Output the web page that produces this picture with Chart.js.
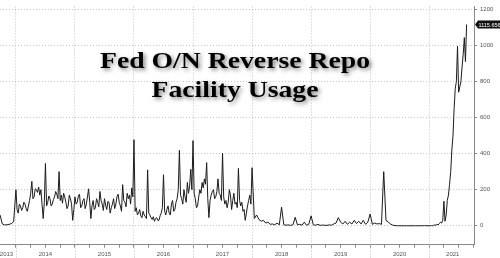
<!DOCTYPE html>
<html lang="en">
<head>
<meta charset="UTF-8">
<title>Fed O/N Reverse Repo Facility Usage</title>
<script src="https://cdn.jsdelivr.net/npm/chart.js@4.4.0/dist/chart.umd.min.js"></script>
<style>
    html, body { margin: 0; padding: 0; background: #fff; }
    #chart { display: block; }
</style>
</head>
<body>
<canvas id="chart" width="500" height="258"></canvas>
<script>
    // Usage in $bn: weekly 2014-2017 and 2021, biweekly otherwise
    const v2013 = [60, 10, 5, 5, 8, 12, 22];   // from mid Sept 2013, biweekly
    const v2014 = [200, 90, 70, 120, 110, 85, 100, 130, 120, 95, 80, 110, 140, 180, 246, 150, 160, 205, 200, 185, 215, 170, 200, 120, 40, 130,
                   345, 110, 130, 165, 150, 110, 120, 145, 160, 190, 175, 150, 300, 140, 170, 125, 180, 160, 130, 95, 110, 170, 150, 120, 30, 90];
    const v2015 = [160, 120, 130, 165, 175, 100, 110, 140, 150, 95, 120, 160, 205, 130, 40, 110, 140, 90, 100, 150, 130, 105, 190, 140, 120, 85,
                   150, 115, 90, 135, 130, 70, 100, 120, 150, 95, 120, 160, 175, 130, 110, 80, 228, 140, 130, 105, 180, 150, 170, 120, 210, 160];
    const v2016 = [477, 80, 100, 60, 70, 90, 55, 45, 80, 60, 50, 40, 310, 70, 60, 45, 35, 50, 25, 40, 45, 30, 30, 55, 70, 100,
                   283, 80, 60, 90, 110, 70, 60, 120, 140, 80, 90, 130, 150, 200, 418, 170, 150, 120, 200, 160, 130, 240, 180, 220, 313, 200];
    const v2017 = [472, 180, 150, 100, 110, 160, 200, 180, 240, 210, 260, 230, 350, 150, 45, 140, 170, 190, 200, 150, 160, 190, 260, 180, 170, 140,
                   403, 160, 120, 140, 100, 130, 200, 170, 90, 140, 180, 120, 130, 100, 318, 140, 110, 130, 80, 90, 30, 70, 110, 140, 170, 120];
    const v2018 = [322, 40, 60, 35, 25, 30, 15, 20, 8, 10, 5, 15, 5, 103, 5, 3, 5, 2, 5, 47, 5, 8, 3, 20, 3, 8];
    const v2019 = [55, 5, 3, 8, 2, 4, 3, 2, 5, 3, 10, 15, 45, 20, 10, 25, 8, 20, 10, 30, 12, 25, 10, 30, 8, 20];
    const v2020 = [65, 8, 15, 10, 12, 8, 300, 30, 20, 10, 3, 1, 0, 0, 0, 0, 0, 0, 0, 0, 0, 0, 0, 0, 1, 0];
    const v2021 = [0, 0, 1, 0, 3, 5, 2, 8, 5, 12, 20, 15, 30, 136, 25, 60, 140, 170, 230, 300, 420, 497, 650, 760, 800, 995, 740, 770, 800, 880, 950, 1043, 910, 1115.656];

    const yearLabels = ['2013', '2014', '2015', '2016', '2017', '2018', '2019', '2020', '2021'];
    const labelPos = [2013.84, 2014.5, 2015.5, 2016.5, 2017.5, 2018.5, 2019.5, 2020.5, 2021.4];
    const yTicks = [0, 200, 400, 600, 800, 1000, 1200];
    const lastLabel = '1115.656';

    const points = [];
    function addYear(year, values, perYear, offset) {
        values.forEach((v, i) => points.push({ x: year + (i + offset) / perYear, y: v }));
    }
    addYear(2013, v2013, 26, 19);
    addYear(2014, v2014, 52, 0);
    addYear(2015, v2015, 52, 0);
    addYear(2016, v2016, 52, 0);
    addYear(2017, v2017, 52, 0);
    addYear(2018, v2018, 26, 0);
    addYear(2019, v2019, 26, 0);
    addYear(2020, v2020, 26, 0);
    addYear(2021, v2021, 52, 0);

    const X_MIN = 2013.73, X_MAX = 2021.76;
    const tickFont = { family: 'Liberation Sans', size: 6 };

    const decorations = {
        id: 'decorations',
        afterDatasetsDraw(chart) {
            const { ctx, chartArea, scales } = chart;
            // year separators running down through the label row
            ctx.save();
            ctx.strokeStyle = '#c4c4c4';
            ctx.lineWidth = 1;
            ctx.setLineDash([1, 2]);
            for (let y = 2014; y <= 2021; y++) {
                const px = Math.round(scales.x.getPixelForValue(y)) + 0.5;
                ctx.beginPath();
                ctx.moveTo(px, chartArea.bottom);
                ctx.lineTo(px, chart.height);
                ctx.stroke();
            }
            ctx.restore();

            // year labels, centred in the visible part of each year
            ctx.save();
            ctx.fillStyle = '#555';
            ctx.font = '6px "Liberation Sans"';
            ctx.textAlign = 'center';
            ctx.textBaseline = 'middle';
            yearLabels.forEach((lab, i) => {
                ctx.fillText(lab, scales.x.getPixelForValue(labelPos[i]), 254.5);
            });
            ctx.restore();

            // last value tag
            const last = points[points.length - 1].y;
            const py = scales.y.getPixelForValue(last);
            ctx.save();
            ctx.fillStyle = '#111';
            ctx.beginPath();
            ctx.moveTo(chartArea.right + 1, py);
            ctx.lineTo(chartArea.right + 4, py - 4);
            ctx.lineTo(chart.width, py - 4);
            ctx.lineTo(chart.width, py + 4);
            ctx.lineTo(chartArea.right + 4, py + 4);
            ctx.closePath();
            ctx.fill();
            ctx.fillStyle = '#fff';
            ctx.font = '5.5px "Liberation Sans"';
            ctx.textAlign = 'left';
            ctx.textBaseline = 'middle';
            ctx.fillText(lastLabel, chartArea.right + 4.5, py + 0.5);
            ctx.restore();

            // title, stretched a little to the width in the picture
            ctx.save();
            ctx.font = 'bold 23px "Liberation Serif"';
            const stretch = 270 / ctx.measureText('Fed O/N Reverse Repo').width;
            ctx.translate(235, 0);
            ctx.scale(stretch, 1);
            ctx.textAlign = 'center';
            ctx.textBaseline = 'alphabetic';
            ctx.fillStyle = '#000';
            ctx.shadowColor = 'rgba(0,0,0,0.5)';
            ctx.shadowBlur = 4;
            ctx.shadowOffsetX = 2;
            ctx.shadowOffsetY = 2;
            ctx.fillText('Fed O/N Reverse Repo', 0, 68);
            ctx.fillText('Facility Usage', 0, 97);
            ctx.restore();
        }
    };

    new Chart(document.getElementById('chart'), {
        type: 'line',
        data: {
            datasets: [{
                data: points,
                borderColor: '#1c1c1c',
                borderWidth: 1,
                pointRadius: 0,
                tension: 0
            }]
        },
        options: {
            responsive: false,
            animation: false,
            parsing: false,
            layout: { padding: { bottom: 10.3 } },
            plugins: { legend: { display: false }, tooltip: { enabled: false } },
            scales: {
                x: {
                    type: 'linear',
                    position: 'bottom',
                    min: X_MIN,
                    max: X_MAX,
                    afterBuildTicks: s => {
                        const t = [];
                        for (let y = 2014; y <= 2021; y++) {
                            for (let q = 0; q < 4; q++) t.push({ value: y + q / 4 });
                        }
                        s.ticks = t.filter(k => k.value <= X_MAX);
                    },
                    afterFit: s => { s.height = 3; },
                    ticks: { display: false },
                    grid: {
                        color: c => (c.tick && Number.isInteger(c.tick.value)) ? '#c4c4c4' : 'rgba(0,0,0,0)',
                        tickColor: '#8a8a8a',
                        tickLength: 3,
                        lineWidth: 1
                    },
                    border: { display: true, color: '#8a8a8a', dash: [1, 2] }
                },
                y: {
                    position: 'right',
                    min: -105,
                    max: 1215,
                    afterBuildTicks: s => { s.ticks = yTicks.map(v => ({ value: v })); },
                    afterFit: s => { s.width = 26; },
                    ticks: { font: tickFont, color: '#555', padding: 3, callback: v => String(v) },
                    grid: { color: '#c4c4c4', tickColor: '#8a8a8a', tickLength: 3 },
                    border: { display: true, color: '#8a8a8a', dash: [1, 2] }
                }
            }
        },
        plugins: [decorations]
    });
</script>
</body>
</html>
